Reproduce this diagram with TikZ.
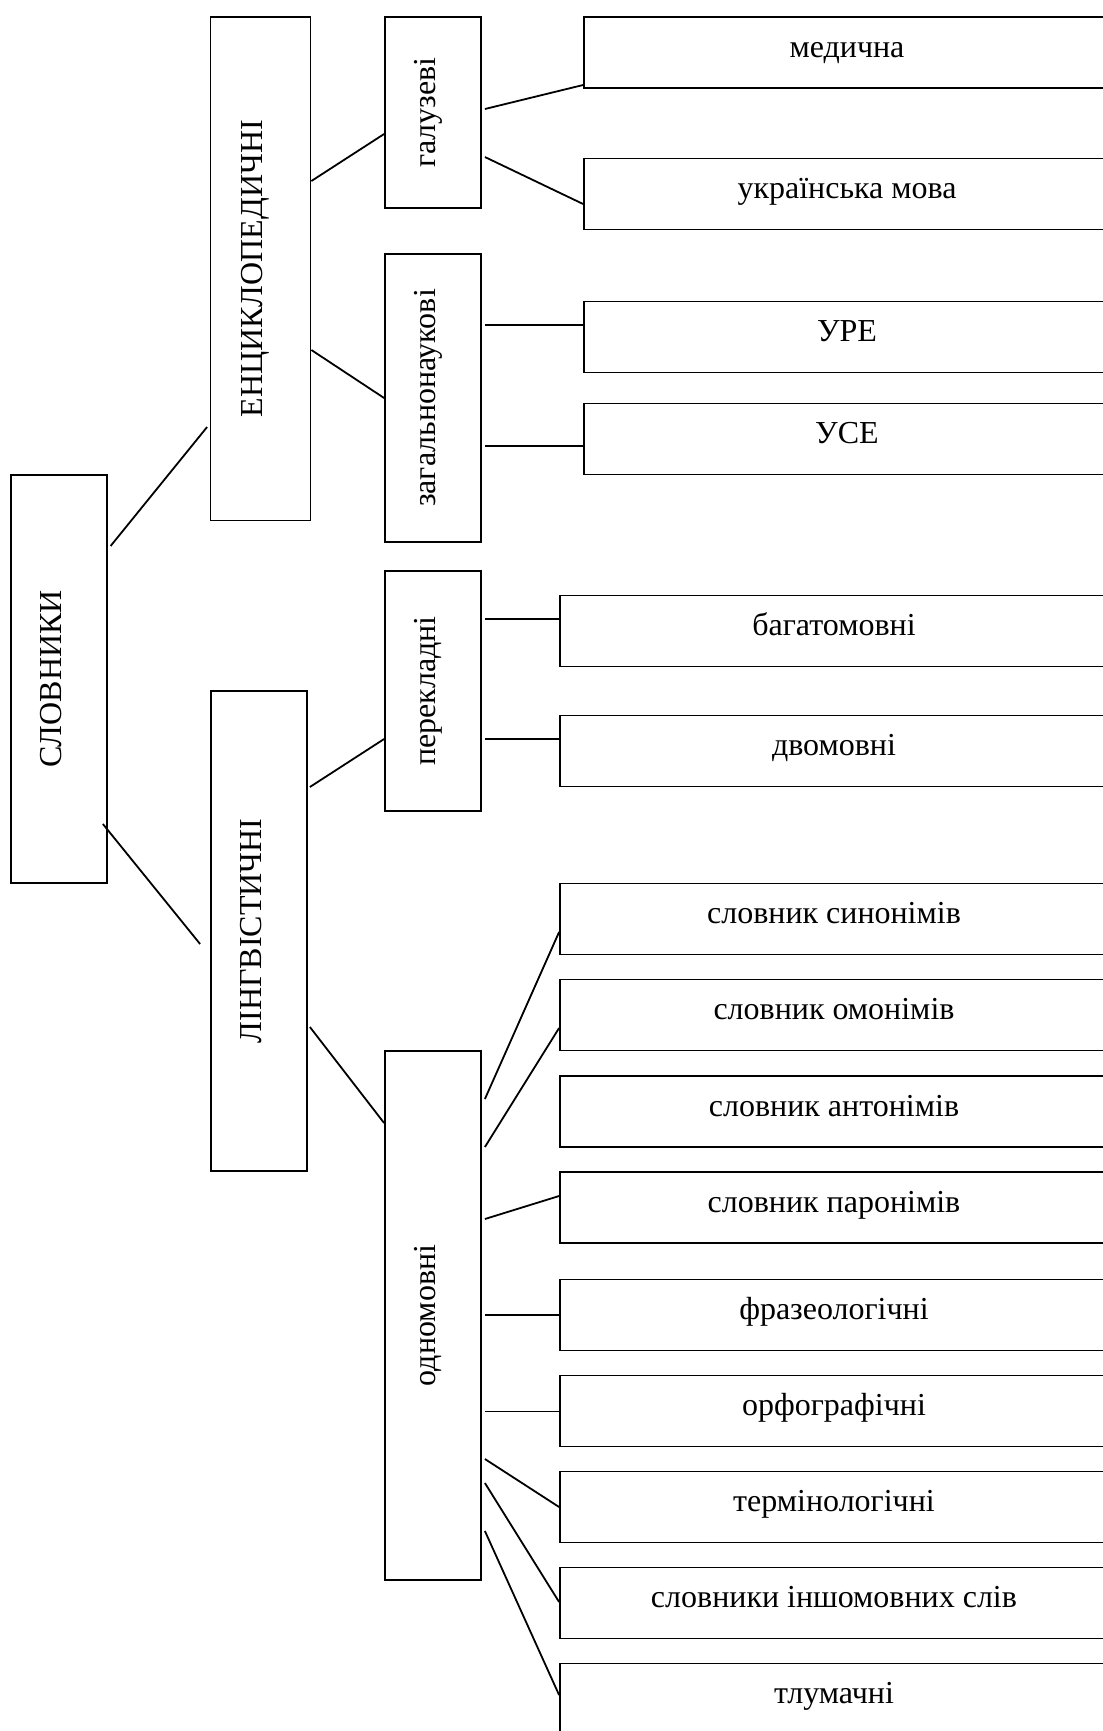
\documentclass[tikz,border=0pt]{standalone}
\usepackage{fontspec}
\setmainfont{Liberation Serif}
\usepackage{tikz}
\tikzset{vbox/.style={draw,line width=.9pt,inner sep=0pt,minimum width=48pt,font=\fontsize{16}{19}\selectfont},
  hbox/.style={draw,line width=.9pt,inner sep=0pt,minimum height=35.5pt,text height=11.5pt,text depth=7pt,font=\fontsize{16}{19}\selectfont},
  link/.style={line width=.9pt}}
\newcommand{\vtext}[1]{\rotatebox{90}{\raisebox{0pt}[10pt][8pt]{#1}}}

\begin{document}
\begin{tikzpicture}[x=0.5pt,y=-0.5pt] % одиниця = 1 піксель, вісь y донизу
            \useasboundingbox (0,0) rectangle (1103,1731);
            \clip (0,0) rectangle (1103,1731);
            % вертикальні блоки
            \node[vbox,minimum height=204pt] (slov) at (59,679) {\vtext{СЛОВНИКИ}};
            \node[vbox,minimum width=50pt,minimum height=251.75pt] (enc) at (260.5,268.75) {\vtext{ЕНЦИКЛОПЕДИЧНІ}};
            \node[vbox,minimum height=240pt] (ling) at (259,931) {\vtext{ЛІНГВІСТИЧНІ}};
            \node[vbox,minimum height=95.5pt] (gal) at (433,112.5) {\vtext{галузеві}};
            \node[vbox,minimum height=144pt] (zag) at (433,398) {\vtext{загальнонаукові}};
            \node[vbox,minimum height=120pt] (perekl) at (433,691) {\vtext{перекладні}};
            \node[vbox,minimum height=264.5pt] (odno) at (433,1315.5) {\vtext{одномовні}};
            % праві блоки
            \node[hbox,minimum width=263pt] (med) at (847,52.5) {медична};
            \node[hbox,minimum width=263pt] (ukr) at (847,194) {українська мова};
            \node[hbox,minimum width=263pt] (ure) at (847,337) {УРЕ};
            \node[hbox,minimum width=263pt] (use) at (847,439) {УСЕ};
            \node[hbox,minimum width=274pt] (bag) at (834,631) {багатомовні};
            \node[hbox,minimum width=274pt] (dvo) at (834,751) {двомовні};
            \node[hbox,minimum width=274pt] (syn) at (834,919) {словник синонімів};
            \node[hbox,minimum width=274pt] (omo) at (834,1015) {словник омонімів};
            \node[hbox,minimum width=274pt] (ant) at (834,1111.5) {словник антонімів};
            \node[hbox,minimum width=274pt] (par) at (834,1207.5) {словник паронімів};
            \node[hbox,minimum width=274pt] (fraz) at (834,1315) {фразеологічні};
            \node[hbox,minimum width=274pt] (orfo) at (834,1411) {орфографічні};
            \node[hbox,minimum width=274pt] (term) at (834,1507) {термінологічні};
            \node[hbox,minimum width=274pt] (insh) at (834,1603) {словники іншомовних слів};
            \node[hbox,minimum width=274pt] (tlum) at (834,1699) {тлумачні};
            % лінії
            \draw[link] ([xshift=1.35pt]slov.east |- 0,546) -- ([xshift=-1.25pt]enc.west |- 0,427);
            \draw[link] ([xshift=-2.5pt]slov.east |- 0,824) -- ([xshift=-5pt]ling.west |- 0,944);
            \draw[link] (enc.east |- 0,181) -- (gal.west |- 0,134);
            \draw[link] (enc.east |- 0,350) -- (zag.west |- 0,398);
            \draw[link] ([xshift=1pt]ling.east |- 0,787) -- (perekl.west |- 0,739);
            \draw[link] ([xshift=1pt]ling.east |- 0,1027) -- (odno.west |- 0,1123);
            \draw[link] ([xshift=1.5pt]gal.east |- 0,109) -- (med.west |- 0,85);
            \draw[link] ([xshift=1.5pt]gal.east |- 0,157) -- (ukr.west |- 0,204);
            \draw[link] ([xshift=1.5pt]zag.east |- 0,325) -- (ure.west |- 0,325);
            \draw[link] ([xshift=1.5pt]zag.east |- 0,446) -- (use.west |- 0,446);
            \draw[link] ([xshift=1.5pt]perekl.east |- 0,619) -- (bag.west |- 0,619);
            \draw[link] ([xshift=1.5pt]perekl.east |- 0,739) -- (dvo.west |- 0,739);
            \draw[link] ([xshift=1.5pt]odno.east |- 0,1099) -- (syn.west |- 0,932);
            \draw[link] ([xshift=1.5pt]odno.east |- 0,1147) -- (omo.west |- 0,1028);
            \draw[link] ([xshift=1.5pt]odno.east |- 0,1219) -- (par.west |- 0,1196);
            \draw[link] ([xshift=1.5pt]odno.east |- 0,1315) -- (fraz.west |- 0,1315);
            \draw[link] ([xshift=1.5pt]odno.east |- 0,1411.5) -- (orfo.west |- 0,1411.5);
            \draw[link] ([xshift=1.5pt]odno.east |- 0,1459) -- (term.west |- 0,1507);
            \draw[link] ([xshift=1.5pt]odno.east |- 0,1483) -- (insh.west |- 0,1602);
            \draw[link] ([xshift=1.5pt]odno.east |- 0,1531) -- (tlum.west |- 0,1695);
        \end{tikzpicture}
\end{document}
